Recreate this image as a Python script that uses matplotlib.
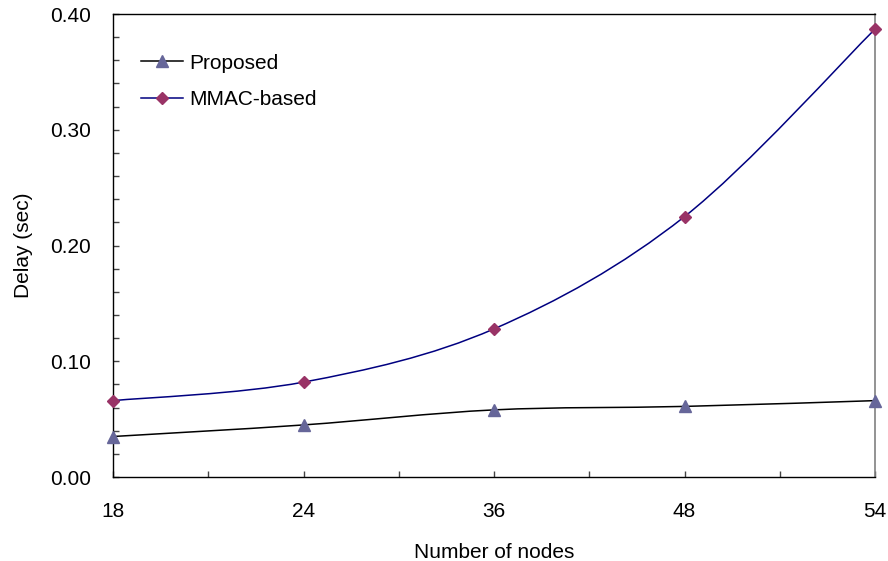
import numpy as np
import matplotlib
matplotlib.use('Agg')
import matplotlib.pyplot as plt
from matplotlib.path import Path
from matplotlib.patches import PathPatch
from matplotlib.ticker import MultipleLocator

plt.rcParams['font.family'] = ['Liberation Sans', 'DejaVu Sans']

nodes = ['18', '24', '36', '48', '54']
proposed = [0.035, 0.045, 0.058, 0.061, 0.066]
mmac = [0.066, 0.082, 0.128, 0.225, 0.387]


def smooth_path(xs, ys):
    # excel-style smoothed line: bezier segments with catmull-rom tangents
    pts = np.column_stack([xs, ys]).astype(float)
    ext = np.vstack([pts[0], pts, pts[-1]])
    verts = [pts[0]]
    codes = [Path.MOVETO]
    for i in range(len(pts) - 1):
        p0, p1, p2, p3 = ext[i], ext[i + 1], ext[i + 2], ext[i + 3]
        c1 = p1 + (p2 - p0) / 6.0
        c2 = p2 - (p3 - p1) / 6.0
        verts += [c1, c2, p2]
        codes += [Path.CURVE4] * 3
    return Path(verts, codes)


fig = plt.figure(figsize=(8.88, 5.61), dpi=100)
ax = fig.add_axes([0.1273, 0.1497, 0.8581, 0.8253])

x = np.arange(len(nodes))

ax.add_patch(PathPatch(smooth_path(x, proposed), fill=False, edgecolor='black', lw=1.1, zorder=2))
ax.add_patch(PathPatch(smooth_path(x, mmac), fill=False, edgecolor='#000080', lw=1.1, zorder=2))

ax.plot(x, proposed, ls='none', marker='^', ms=8, color='#666699', zorder=3, clip_on=False)
ax.plot(x, mmac, ls='none', marker='D', ms=6.5, color='#993366', zorder=3, clip_on=False)

# legend handles
ax.plot([], [], color='black', lw=1.1, marker='^', ms=8, mfc='#666699', mec='#666699', label='Proposed')
ax.plot([], [], color='#000080', lw=1.1, marker='D', ms=6.5, mfc='#993366', mec='#993366', label='MMAC-based')
ax.legend(loc='upper left', bbox_to_anchor=(0.012, 0.955), frameon=False, fontsize=15,
          handlelength=2.0, handletextpad=0.3, labelspacing=0.85)

ax.set_xlim(0, len(nodes) - 1)
ax.set_ylim(0, 0.40)
ax.set_xticks(x)
ax.set_xticklabels(nodes)
ax.set_xticks(x[:-1] + 0.5, minor=True)
ax.yaxis.set_major_locator(MultipleLocator(0.1))
ax.yaxis.set_minor_locator(MultipleLocator(0.02))
ax.yaxis.set_major_formatter(plt.FormatStrFormatter('%.2f'))

ax.tick_params(axis='both', which='both', direction='in', length=4, width=1, color='#444444',
               labelsize=15)
ax.tick_params(axis='x', which='major', pad=18)
ax.tick_params(axis='y', which='major', pad=16)

ax.set_xlabel('Number of nodes', fontsize=15, labelpad=16)
ax.set_ylabel('Delay (sec)', fontsize=15, labelpad=12)

for s in ['left', 'bottom', 'top']:
    ax.spines[s].set_color('black')
    ax.spines[s].set_linewidth(1.0)
ax.spines['right'].set_color('#808080')
ax.spines['right'].set_linewidth(1.2)

fig.savefig('out.png', dpi=100)
